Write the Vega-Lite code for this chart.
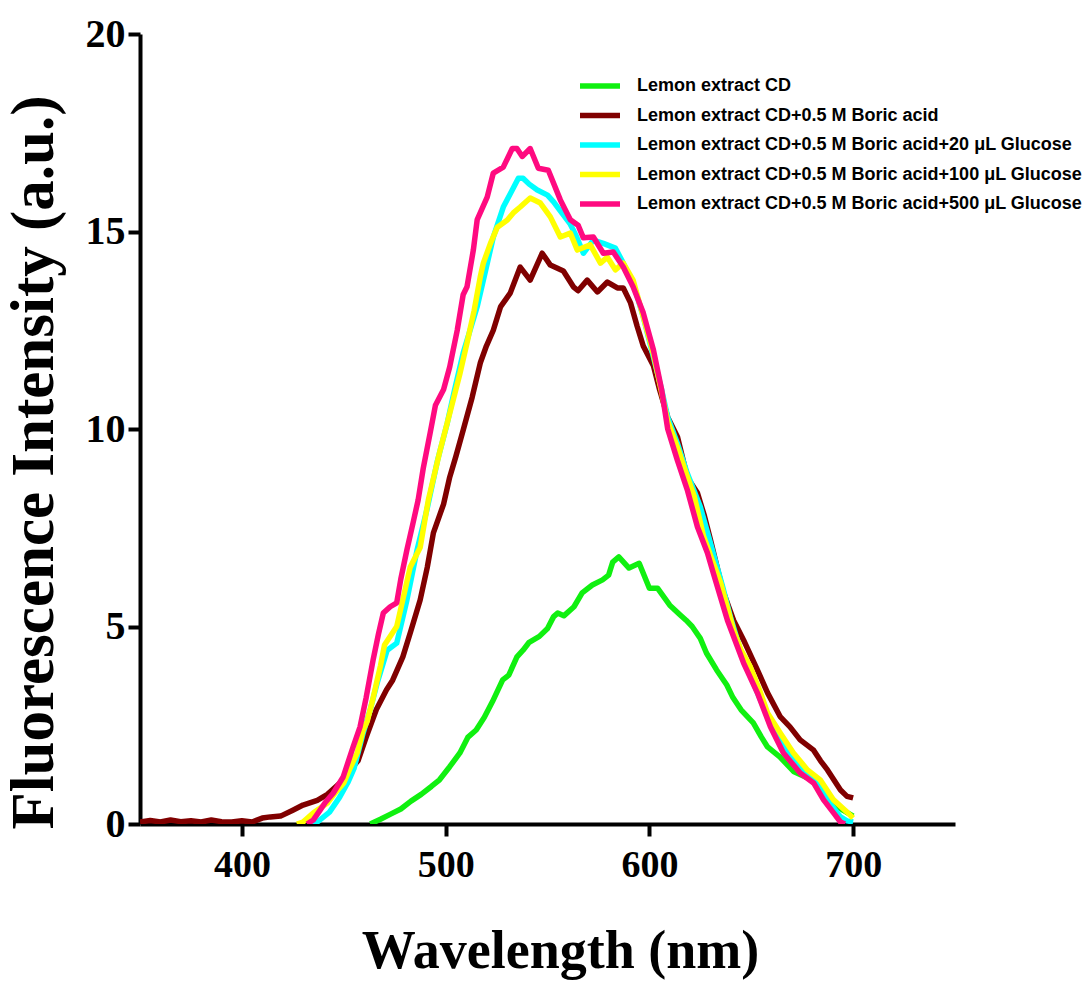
{
  "$schema": "https://vega.github.io/schema/vega-lite/v6.json",
  "width": 815,
  "height": 790,
  "autosize": {"type": "none"},
  "padding": {"left": 140, "top": 34, "right": 134, "bottom": 157},
  "background": "white",
  "config": {"view": {"stroke": null}},
  "data": {"values": [
    {"s":"A","x":463,"y":0},{"s":"A","x":468,"y":0.12},{"s":"A","x":473,"y":0.25},{"s":"A","x":478,"y":0.38},{"s":"A","x":483,"y":0.58},{"s":"A","x":488,"y":0.75},{"s":"A","x":493,"y":0.95},{"s":"A","x":497,"y":1.12},{"s":"A","x":502,"y":1.45},{"s":"A","x":507,"y":1.8},{"s":"A","x":511,"y":2.2},{"s":"A","x":515,"y":2.38},{"s":"A","x":519,"y":2.7},{"s":"A","x":523,"y":3.1},{"s":"A","x":528,"y":3.65},{"s":"A","x":531,"y":3.77},{"s":"A","x":535,"y":4.23},{"s":"A","x":538,"y":4.4},{"s":"A","x":541,"y":4.6},{"s":"A","x":546,"y":4.75},{"s":"A","x":550,"y":4.95},{"s":"A","x":553,"y":5.25},{"s":"A","x":555,"y":5.34},{"s":"A","x":558,"y":5.27},{"s":"A","x":563,"y":5.5},{"s":"A","x":567,"y":5.85},{"s":"A","x":572,"y":6.05},{"s":"A","x":577,"y":6.18},{"s":"A","x":580,"y":6.3},{"s":"A","x":582,"y":6.63},{"s":"A","x":585,"y":6.76},{"s":"A","x":590,"y":6.48},{"s":"A","x":595,"y":6.6},{"s":"A","x":600,"y":5.97},{"s":"A","x":604,"y":5.97},{"s":"A","x":610,"y":5.54},{"s":"A","x":615,"y":5.3},{"s":"A","x":618,"y":5.16},{"s":"A","x":621,"y":5.0},{"s":"A","x":625,"y":4.7},{"s":"A","x":628,"y":4.33},{"s":"A","x":633,"y":3.9},{"s":"A","x":638,"y":3.52},{"s":"A","x":641,"y":3.2},{"s":"A","x":645,"y":2.89},{"s":"A","x":651,"y":2.56},{"s":"A","x":655,"y":2.2},{"s":"A","x":658,"y":1.95},{"s":"A","x":664,"y":1.7},{"s":"A","x":671,"y":1.32},{"s":"A","x":678,"y":1.16},{"s":"A","x":684,"y":0.91},{"s":"A","x":690,"y":0.53},{"s":"A","x":695,"y":0.35},{"s":"A","x":700,"y":0.2},
    {"s":"B","x":350,"y":0.05},{"s":"B","x":355,"y":0.09},{"s":"B","x":360,"y":0.05},{"s":"B","x":365,"y":0.1},{"s":"B","x":370,"y":0.06},{"s":"B","x":375,"y":0.08},{"s":"B","x":380,"y":0.05},{"s":"B","x":385,"y":0.1},{"s":"B","x":390,"y":0.06},{"s":"B","x":395,"y":0.05},{"s":"B","x":400,"y":0.08},{"s":"B","x":405,"y":0.05},{"s":"B","x":410,"y":0.15},{"s":"B","x":414,"y":0.18},{"s":"B","x":419,"y":0.2},{"s":"B","x":425,"y":0.35},{"s":"B","x":430,"y":0.48},{"s":"B","x":437,"y":0.6},{"s":"B","x":442,"y":0.75},{"s":"B","x":448,"y":1.03},{"s":"B","x":452,"y":1.3},{"s":"B","x":457,"y":1.6},{"s":"B","x":461,"y":2.2},{"s":"B","x":466,"y":2.9},{"s":"B","x":471,"y":3.4},{"s":"B","x":474,"y":3.64},{"s":"B","x":479,"y":4.23},{"s":"B","x":483,"y":4.9},{"s":"B","x":487.5,"y":5.67},{"s":"B","x":491,"y":6.5},{"s":"B","x":494,"y":7.37},{"s":"B","x":499,"y":8.1},{"s":"B","x":502,"y":8.78},{"s":"B","x":505,"y":9.3},{"s":"B","x":508.6,"y":9.97},{"s":"B","x":513,"y":10.8},{"s":"B","x":517,"y":11.67},{"s":"B","x":520,"y":12.1},{"s":"B","x":523.4,"y":12.5},{"s":"B","x":527,"y":13.1},{"s":"B","x":531.7,"y":13.44},{"s":"B","x":536.6,"y":14.1},{"s":"B","x":541.5,"y":13.77},{"s":"B","x":547.4,"y":14.45},{"s":"B","x":551.4,"y":14.15},{"s":"B","x":557.8,"y":14.0},{"s":"B","x":562.7,"y":13.6},{"s":"B","x":565,"y":13.5},{"s":"B","x":569.5,"y":13.77},{"s":"B","x":574.5,"y":13.47},{"s":"B","x":579.4,"y":13.72},{"s":"B","x":584.3,"y":13.57},{"s":"B","x":587.2,"y":13.57},{"s":"B","x":590.7,"y":13.2},{"s":"B","x":594,"y":12.6},{"s":"B","x":597,"y":12.1},{"s":"B","x":602,"y":11.6},{"s":"B","x":605,"y":11.0},{"s":"B","x":609,"y":10.3},{"s":"B","x":613.8,"y":9.8},{"s":"B","x":618.6,"y":8.78},{"s":"B","x":623.6,"y":8.38},{"s":"B","x":627,"y":7.8},{"s":"B","x":630,"y":7.19},{"s":"B","x":636,"y":5.92},{"s":"B","x":641.3,"y":5.16},{"s":"B","x":646.2,"y":4.66},{"s":"B","x":653,"y":3.9},{"s":"B","x":658,"y":3.32},{"s":"B","x":664.3,"y":2.71},{"s":"B","x":669,"y":2.46},{"s":"B","x":674,"y":2.13},{"s":"B","x":680.6,"y":1.87},{"s":"B","x":684,"y":1.6},{"s":"B","x":687.4,"y":1.37},{"s":"B","x":693.8,"y":0.86},{"s":"B","x":697,"y":0.7},{"s":"B","x":700,"y":0.66},
    {"s":"C","x":434,"y":0},{"s":"C","x":437,"y":0.05},{"s":"C","x":443,"y":0.3},{"s":"C","x":448,"y":0.68},{"s":"C","x":452,"y":1.05},{"s":"C","x":455,"y":1.4},{"s":"C","x":459.5,"y":2.3},{"s":"C","x":463,"y":2.9},{"s":"C","x":466.4,"y":3.57},{"s":"C","x":471.3,"y":4.4},{"s":"C","x":476,"y":4.58},{"s":"C","x":481,"y":5.67},{"s":"C","x":486,"y":6.94},{"s":"C","x":491,"y":8.0},{"s":"C","x":496,"y":9.2},{"s":"C","x":500.8,"y":10.15},{"s":"C","x":504,"y":10.9},{"s":"C","x":508.6,"y":11.92},{"s":"C","x":512,"y":12.5},{"s":"C","x":515.5,"y":13.1},{"s":"C","x":520,"y":14.1},{"s":"C","x":523.4,"y":14.86},{"s":"C","x":528.3,"y":15.62},{"s":"C","x":532.7,"y":16.05},{"s":"C","x":535.7,"y":16.35},{"s":"C","x":538,"y":16.35},{"s":"C","x":541,"y":16.2},{"s":"C","x":545,"y":16.05},{"s":"C","x":550,"y":15.92},{"s":"C","x":553,"y":15.75},{"s":"C","x":556,"y":15.54},{"s":"C","x":561,"y":15.2},{"s":"C","x":564,"y":14.9},{"s":"C","x":567.6,"y":14.45},{"s":"C","x":572.5,"y":14.78},{"s":"C","x":577.4,"y":14.7},{"s":"C","x":583.3,"y":14.58},{"s":"C","x":587.2,"y":14.2},{"s":"C","x":592,"y":13.7},{"s":"C","x":597,"y":12.84},{"s":"C","x":602,"y":11.82},{"s":"C","x":606,"y":11.0},{"s":"C","x":609,"y":10.3},{"s":"C","x":614,"y":9.6},{"s":"C","x":618.6,"y":8.88},{"s":"C","x":625,"y":8.03},{"s":"C","x":630,"y":7.11},{"s":"C","x":636,"y":6.0},{"s":"C","x":640,"y":5.2},{"s":"C","x":644.7,"y":4.4},{"s":"C","x":650,"y":3.7},{"s":"C","x":654.5,"y":3.14},{"s":"C","x":661,"y":2.38},{"s":"C","x":667.8,"y":1.8},{"s":"C","x":674,"y":1.44},{"s":"C","x":680.6,"y":1.11},{"s":"C","x":684,"y":0.9},{"s":"C","x":687.4,"y":0.61},{"s":"C","x":693.8,"y":0.18},{"s":"C","x":697,"y":0.08},{"s":"C","x":700,"y":0.05},
    {"s":"D","x":427,"y":0},{"s":"D","x":430,"y":0.05},{"s":"D","x":435,"y":0.28},{"s":"D","x":442,"y":0.53},{"s":"D","x":446,"y":0.8},{"s":"D","x":450,"y":1.04},{"s":"D","x":453,"y":1.4},{"s":"D","x":456.6,"y":1.8},{"s":"D","x":459.5,"y":2.38},{"s":"D","x":461.5,"y":2.6},{"s":"D","x":464,"y":3.1},{"s":"D","x":466.4,"y":3.64},{"s":"D","x":468,"y":4.0},{"s":"D","x":470,"y":4.53},{"s":"D","x":476,"y":5.0},{"s":"D","x":482.6,"y":6.5},{"s":"D","x":487.5,"y":7.0},{"s":"D","x":491.5,"y":8.2},{"s":"D","x":497,"y":9.4},{"s":"D","x":503.7,"y":10.73},{"s":"D","x":507,"y":11.4},{"s":"D","x":510.5,"y":12.18},{"s":"D","x":514,"y":13.0},{"s":"D","x":517,"y":13.85},{"s":"D","x":518.5,"y":14.2},{"s":"D","x":522,"y":14.7},{"s":"D","x":525.4,"y":15.11},{"s":"D","x":530.3,"y":15.29},{"s":"D","x":533.2,"y":15.47},{"s":"D","x":536.6,"y":15.62},{"s":"D","x":541.5,"y":15.85},{"s":"D","x":546.5,"y":15.72},{"s":"D","x":551.4,"y":15.37},{"s":"D","x":556.3,"y":14.86},{"s":"D","x":561.2,"y":14.96},{"s":"D","x":564.6,"y":14.53},{"s":"D","x":571,"y":14.66},{"s":"D","x":576,"y":14.2},{"s":"D","x":579.4,"y":14.35},{"s":"D","x":583.3,"y":14.03},{"s":"D","x":587.2,"y":14.2},{"s":"D","x":592,"y":13.77},{"s":"D","x":597,"y":12.84},{"s":"D","x":602,"y":11.9},{"s":"D","x":609,"y":10.2},{"s":"D","x":614,"y":9.5},{"s":"D","x":618.6,"y":8.8},{"s":"D","x":622,"y":8.3},{"s":"D","x":626.5,"y":7.3},{"s":"D","x":630,"y":6.8},{"s":"D","x":635,"y":6.1},{"s":"D","x":641.3,"y":4.91},{"s":"D","x":645,"y":4.4},{"s":"D","x":649.6,"y":3.97},{"s":"D","x":654,"y":3.4},{"s":"D","x":658,"y":2.81},{"s":"D","x":664.3,"y":2.3},{"s":"D","x":670.7,"y":1.8},{"s":"D","x":677.6,"y":1.37},{"s":"D","x":684,"y":1.11},{"s":"D","x":690.4,"y":0.61},{"s":"D","x":697,"y":0.3},{"s":"D","x":700,"y":0.15},
    {"s":"E","x":432,"y":0},{"s":"E","x":435,"y":0.1},{"s":"E","x":438.4,"y":0.35},{"s":"E","x":441,"y":0.55},{"s":"E","x":444.8,"y":0.78},{"s":"E","x":449.7,"y":1.19},{"s":"E","x":454.6,"y":1.95},{"s":"E","x":458,"y":2.46},{"s":"E","x":461,"y":3.2},{"s":"E","x":464.4,"y":4.15},{"s":"E","x":467,"y":4.8},{"s":"E","x":469.4,"y":5.34},{"s":"E","x":472.8,"y":5.5},{"s":"E","x":476,"y":5.6},{"s":"E","x":478,"y":6.2},{"s":"E","x":481,"y":6.94},{"s":"E","x":484,"y":7.62},{"s":"E","x":486.5,"y":8.2},{"s":"E","x":489,"y":9.0},{"s":"E","x":492.4,"y":9.9},{"s":"E","x":495,"y":10.6},{"s":"E","x":499,"y":11.0},{"s":"E","x":502,"y":11.57},{"s":"E","x":505.7,"y":12.5},{"s":"E","x":508.6,"y":13.4},{"s":"E","x":510.5,"y":13.6},{"s":"E","x":513.6,"y":14.53},{"s":"E","x":515.5,"y":15.3},{"s":"E","x":520.4,"y":15.87},{"s":"E","x":523.4,"y":16.48},{"s":"E","x":528.3,"y":16.63},{"s":"E","x":532.7,"y":17.1},{"s":"E","x":535,"y":17.1},{"s":"E","x":537.6,"y":16.9},{"s":"E","x":541.5,"y":17.1},{"s":"E","x":545.5,"y":16.6},{"s":"E","x":550.4,"y":16.55},{"s":"E","x":556.3,"y":15.8},{"s":"E","x":561.2,"y":15.3},{"s":"E","x":565,"y":15.16},{"s":"E","x":567.6,"y":14.84},{"s":"E","x":572.5,"y":14.86},{"s":"E","x":577.4,"y":14.45},{"s":"E","x":582.3,"y":14.48},{"s":"E","x":587.2,"y":14.1},{"s":"E","x":592,"y":13.6},{"s":"E","x":597,"y":12.94},{"s":"E","x":602,"y":12.0},{"s":"E","x":606,"y":11.0},{"s":"E","x":609,"y":10.0},{"s":"E","x":613.8,"y":9.2},{"s":"E","x":618.6,"y":8.46},{"s":"E","x":623.6,"y":7.52},{"s":"E","x":628.5,"y":6.86},{"s":"E","x":631.4,"y":6.35},{"s":"E","x":638.3,"y":5.16},{"s":"E","x":646.2,"y":4.08},{"s":"E","x":653,"y":3.32},{"s":"E","x":659.4,"y":2.46},{"s":"E","x":665.8,"y":1.8},{"s":"E","x":674,"y":1.29},{"s":"E","x":680.6,"y":1.04},{"s":"E","x":685.5,"y":0.61},{"s":"E","x":690.4,"y":0.28},{"s":"E","x":693.8,"y":0.05},{"s":"E","x":696,"y":0}
  ]},
  "mark": {"type": "line", "strokeWidth": 5.5, "strokeJoin": "round", "clip": true},
  "encoding": {
    "x": {
      "field": "x", "type": "quantitative",
      "scale": {"domain": [350, 750], "nice": false, "zero": false},
      "axis": {
        "title": "Wavelength (nm)", "values": [400, 500, 600, 700], "grid": false,
        "domainColor": "black", "domainWidth": 4, "tickColor": "black", "tickWidth": 4, "tickSize": 12,
        "labelFont": "Liberation Serif", "labelFontWeight": "bold", "labelFontSize": 38, "labelColor": "black", "labelPadding": 10,
        "titleFont": "Liberation Serif", "titleFontWeight": "bold", "titleFontSize": 54, "titleColor": "black", "titlePadding": 40, "titleX": 420
      }
    },
    "y": {
      "field": "y", "type": "quantitative",
      "scale": {"domain": [0, 20], "nice": false},
      "axis": {
        "title": "Fluorescence Intensity (a.u.)", "values": [0, 5, 10, 15, 20], "grid": false,
        "domainColor": "black", "domainWidth": 4, "tickColor": "black", "tickWidth": 4, "tickSize": 12,
        "labelFont": "Liberation Serif", "labelFontWeight": "bold", "labelFontSize": 40, "labelColor": "black", "labelPadding": 3,
        "titleFont": "Liberation Serif", "titleFontWeight": "bold", "titleFontSize": 61, "titleColor": "black", "titlePadding": 20, "titleY": 428
      }
    },
    "color": {
      "field": "s", "type": "nominal",
      "scale": {"domain": ["A", "B", "C", "D", "E"], "range": ["#10f010", "#800000", "#00ffff", "#ffff00", "#ff0a80"]},
      "legend": {
        "title": null, "orient": "none", "legendX": 447, "legendY": 39, "padding": 0,
        "symbolType": "M-2,0H2", "symbolSize": 400, "symbolStrokeWidth": 5.5, "rowPadding": 5.5,
        "labelExpr": "{'A':'Lemon extract CD','B':'Lemon extract CD+0.5 M Boric acid','C':'Lemon extract CD+0.5 M Boric acid+20 μL Glucose','D':'Lemon extract CD+0.5 M Boric acid+100 μL Glucose','E':'Lemon extract CD+0.5 M Boric acid+500 μL Glucose'}[datum.label]",
        "labelFont": "Liberation Sans", "labelFontWeight": "bold", "labelFontSize": 18, "labelColor": "black", "labelLimit": 0, "labelOffset": 24
      }
    }
  }
}
